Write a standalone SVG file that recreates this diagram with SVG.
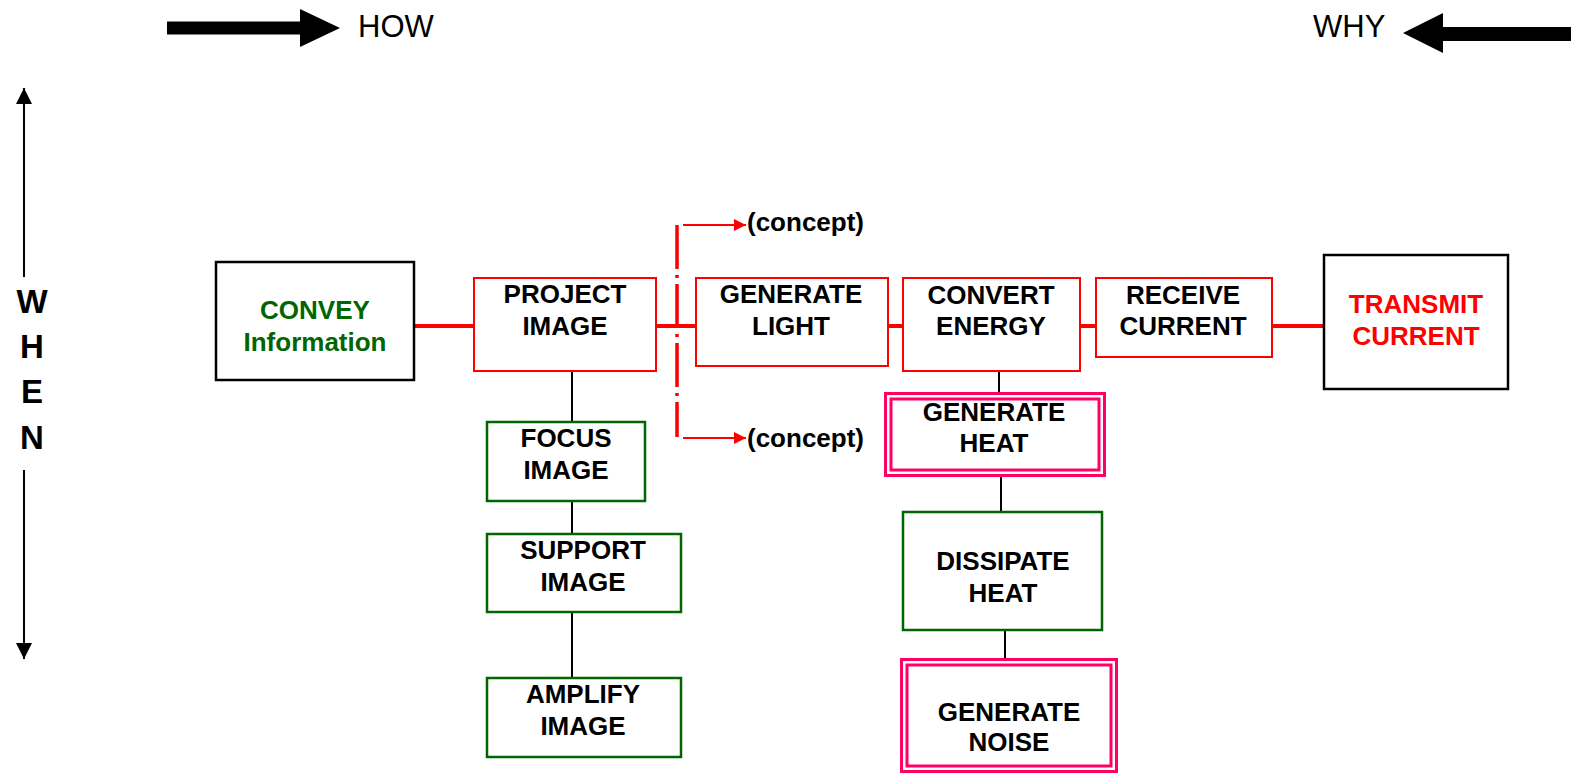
<svg xmlns="http://www.w3.org/2000/svg" width="1571" height="775" viewBox="0 0 1571 775">
<style>
text{font-family:"Liberation Sans",Arial,Helvetica,sans-serif;text-anchor:middle}
.b{font-weight:bold;font-size:26px;fill:#000}
.rbox{fill:#fff;stroke:#ff0000;stroke-width:2}
.gbox{fill:#fff;stroke:#006600;stroke-width:2.5}
.kbox{fill:#fff;stroke:#000;stroke-width:2.5}
.pbox{fill:none;stroke:#ff0066;stroke-width:3}
.rline{stroke:#ff0000;stroke-width:4;fill:none}
.kline{stroke:#000;stroke-width:2;fill:none}
</style>
<defs>
<marker id="ra" viewBox="0 0 12 12" refX="12" refY="6" markerWidth="12" markerHeight="12" markerUnits="userSpaceOnUse" orient="auto"><path d="M0,0 L12,6 L0,12 z" fill="#ff0000"/></marker>
<marker id="ka" viewBox="0 0 16 16" refX="16" refY="8" markerWidth="16" markerHeight="16" markerUnits="userSpaceOnUse" orient="auto"><path d="M0,0 L16,8 L0,16 z" fill="#000"/></marker>
</defs>

<g id="axes">
<path d="M167,28 H302" stroke="#000" stroke-width="13"/>
<path d="M300,9 L340,28 L300,47 z" fill="#000"/>
<text x="358" y="37" style="font-size:31px;text-anchor:start">HOW</text>
<path d="M1571,34 H1441" stroke="#000" stroke-width="14"/>
<path d="M1443,13 L1403,33 L1443,53 z" fill="#000"/>
<text x="1313" y="37" style="font-size:31px;text-anchor:start">WHY</text>
<path d="M24,277 V88" class="kline" marker-end="url(#ka)"/>
<path d="M24,470 V659" class="kline" marker-end="url(#ka)"/>
<text x="32" y="313" style="font-size:33px;font-weight:bold">W</text>
<text x="32" y="358" style="font-size:33px;font-weight:bold">H</text>
<text x="32" y="403" style="font-size:33px;font-weight:bold">E</text>
<text x="32" y="449" style="font-size:33px;font-weight:bold">N</text>
</g>

<g id="connectors">
<path class="rline" d="M414,326 H474"/>
<path class="rline" d="M656,326 H696"/>
<path class="rline" d="M888,326 H903"/>
<path class="rline" d="M1080,326 H1096"/>
<path class="rline" d="M1272,326 H1324"/>
<path class="kline" d="M572,371 V422"/>
<path class="kline" d="M572,501 V534"/>
<path class="kline" d="M572,612 V678"/>
<path class="kline" d="M999,371 V392"/>
<path class="kline" d="M1001,477 V512"/>
<path class="kline" d="M1005,630 V659"/>
<path d="M677,225 V437" stroke="#ff0000" stroke-width="3.5" stroke-dasharray="44 6 3 6" fill="none"/>
<path d="M683,225 H746" stroke="#ff0000" stroke-width="2" marker-end="url(#ra)"/>
<path d="M683,438 H746" stroke="#ff0000" stroke-width="2" marker-end="url(#ra)"/>
<text x="747" y="231" class="b" style="text-anchor:start">(concept)</text>
<text x="747" y="447" class="b" style="text-anchor:start">(concept)</text>
</g>

<g id="convey">
<rect class="kbox" x="216" y="262" width="198" height="118"/>
<text x="315" y="319" class="b" style="fill:#006600">CONVEY</text>
<text x="315" y="351" class="b" style="fill:#006600">Information</text>
</g>

<g id="project-image">
<rect class="rbox" x="474" y="278" width="182" height="93"/>
<text x="565" y="303" class="b">PROJECT</text>
<text x="565" y="335" class="b">IMAGE</text>
</g>

<g id="generate-light">
<rect class="rbox" x="696" y="278" width="192" height="88"/>
<text x="791" y="303" class="b">GENERATE</text>
<text x="791" y="335" class="b">LIGHT</text>
</g>

<g id="convert-energy">
<rect class="rbox" x="903" y="278" width="177" height="93"/>
<text x="991" y="304" class="b">CONVERT</text>
<text x="991" y="335" class="b">ENERGY</text>
</g>

<g id="receive-current">
<rect class="rbox" x="1096" y="278" width="176" height="79"/>
<text x="1183" y="304" class="b">RECEIVE</text>
<text x="1183" y="335" class="b">CURRENT</text>
</g>

<g id="transmit-current">
<rect class="kbox" x="1324" y="255" width="184" height="134"/>
<text x="1416" y="313" class="b" style="fill:#ff0000">TRANSMIT</text>
<text x="1416" y="345" class="b" style="fill:#ff0000">CURRENT</text>
</g>

<g id="focus-image">
<rect class="gbox" x="487" y="422" width="158" height="79"/>
<text x="566" y="447" class="b">FOCUS</text>
<text x="566" y="479" class="b">IMAGE</text>
</g>

<g id="support-image">
<rect class="gbox" x="487" y="534" width="194" height="78"/>
<text x="583" y="559" class="b">SUPPORT</text>
<text x="583" y="591" class="b">IMAGE</text>
</g>

<g id="amplify-image">
<rect class="gbox" x="487" y="678" width="194" height="79"/>
<text x="583" y="703" class="b">AMPLIFY</text>
<text x="583" y="735" class="b">IMAGE</text>
</g>

<g id="generate-heat">
<rect fill="#fff" x="884" y="392" width="222" height="85"/>
<rect class="pbox" x="885.5" y="393.5" width="219" height="82"/>
<rect class="pbox" x="891" y="399" width="208" height="71"/>
<text x="994" y="421" class="b">GENERATE</text>
<text x="994" y="452" class="b">HEAT</text>
</g>

<g id="dissipate-heat">
<rect class="gbox" x="903" y="512" width="199" height="118"/>
<text x="1003" y="570" class="b">DISSIPATE</text>
<text x="1003" y="602" class="b">HEAT</text>
</g>

<g id="generate-noise">
<rect fill="#fff" x="900" y="658" width="218" height="115"/>
<rect class="pbox" x="901.5" y="659.5" width="215" height="112"/>
<rect class="pbox" x="907" y="665" width="204" height="101"/>
<text x="1009" y="721" class="b">GENERATE</text>
<text x="1009" y="751" class="b">NOISE</text>
</g>
</svg>
